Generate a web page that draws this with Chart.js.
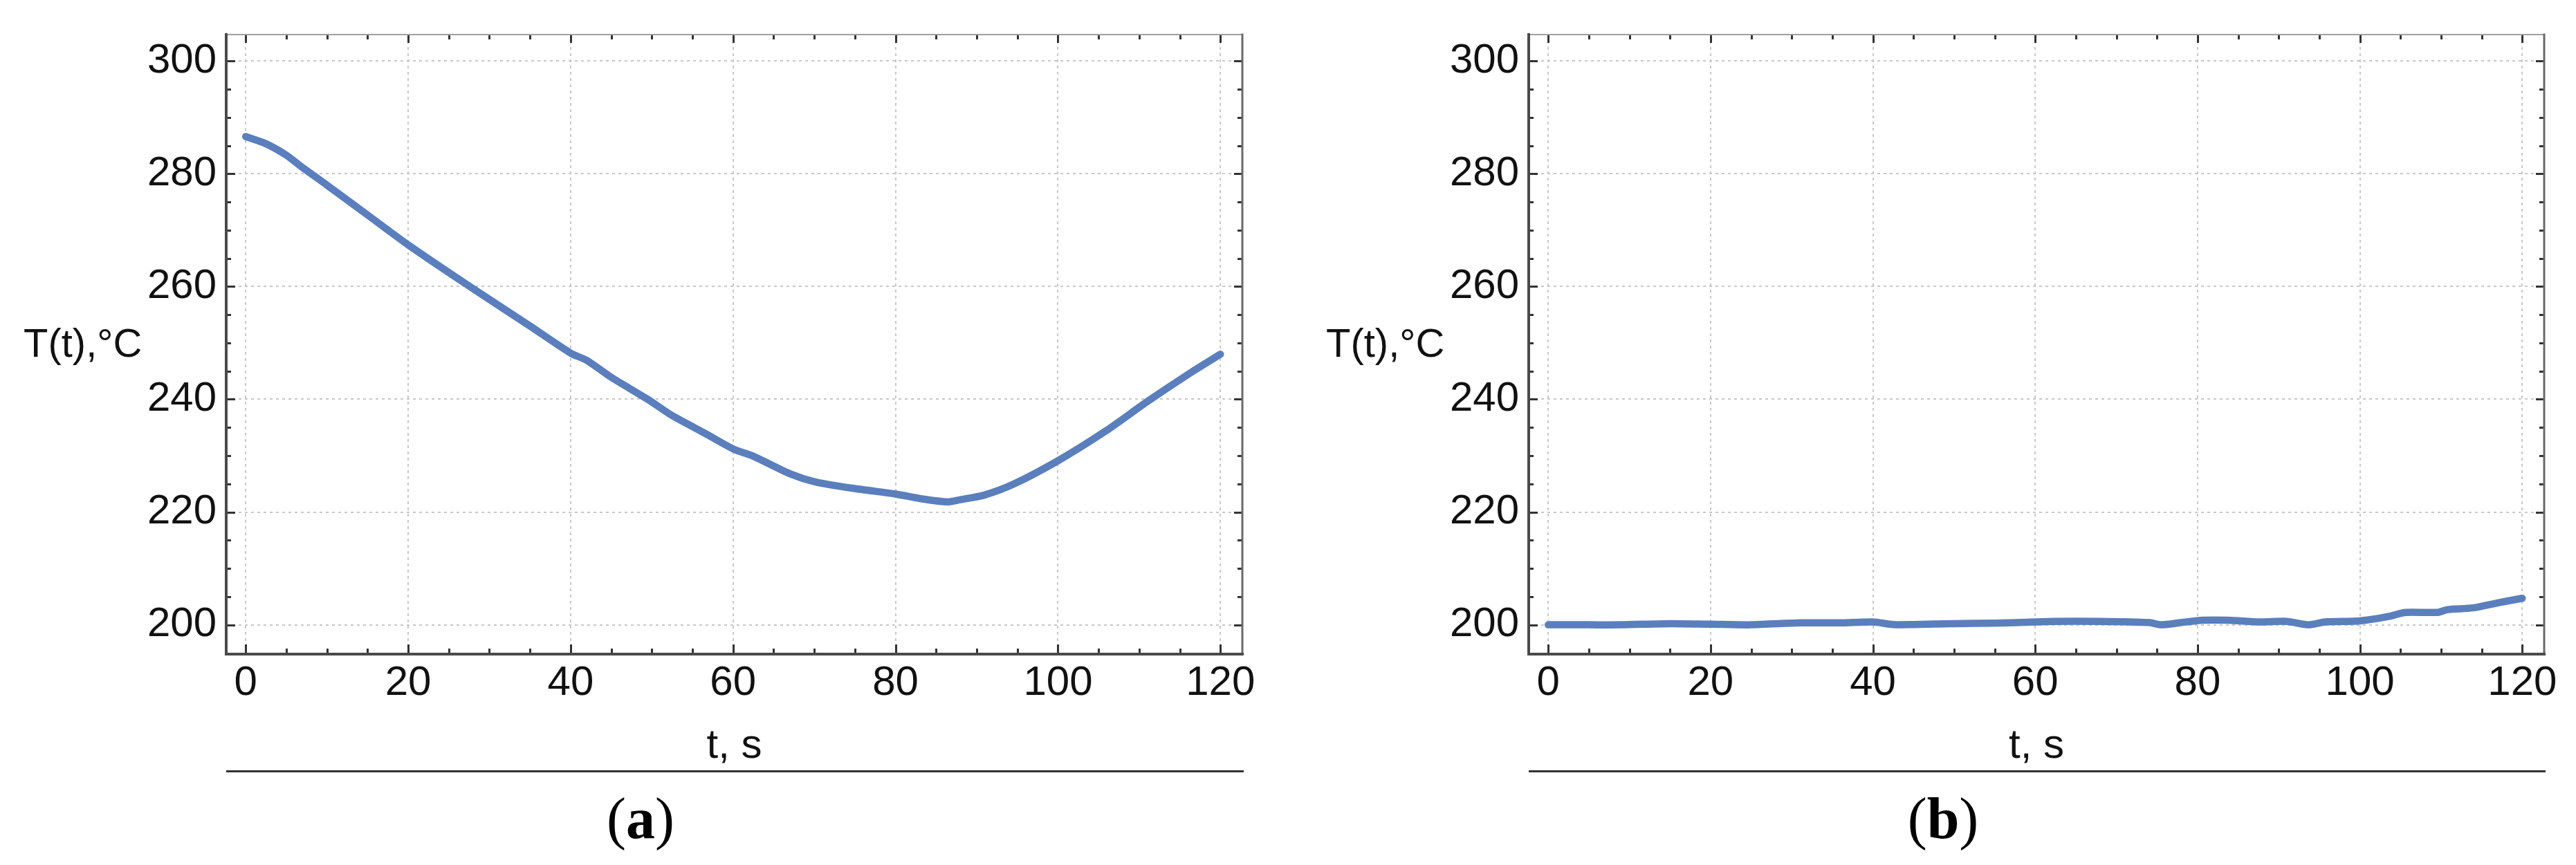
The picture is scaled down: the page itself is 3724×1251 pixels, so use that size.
<!DOCTYPE html>
<html><head><meta charset="utf-8">
<script src="https://cdn.jsdelivr.net/npm/chart.js@4.4.1/dist/chart.umd.min.js"></script>
<style>
html,body{margin:0;padding:0;background:#fff;width:3724px;height:1251px;overflow:hidden}
.panel{position:absolute;top:0;width:1862px;height:1251px}
canvas{display:block}
</style></head><body>
<div class="panel" style="left:0"><canvas id="ca" width="1862" height="1251"></canvas></div>
<div class="panel" style="left:1862px"><canvas id="cb" width="1862" height="1251"></canvas></div>
<script>
// ---- data ----
const tA    = [0, 2.4, 4.9, 7.2, 10, 15, 20, 27.6, 35, 40, 42, 45, 49.5, 52.4, 56.5, 60, 62.5, 67, 70, 74.8, 80, 83, 86.4, 88, 90.9, 94.6, 100, 105.8, 111.1, 116.1, 120];
const tempA = [286.6, 285.4, 283.4, 280.9, 278.0, 272.7, 267.4, 260.0, 253.0, 248.2, 246.9, 243.9, 240.0, 237.2, 234.0, 231.2, 229.9, 226.8, 225.4, 224.2, 223.2, 222.4, 221.8, 222.2, 223.0, 225.0, 229.1, 234.3, 239.7, 244.5, 248.0];
const tB    = [0, 5, 9, 15, 20, 25, 31, 36, 40, 42.5, 45, 50, 55, 60, 62, 68, 74, 75.5, 78, 80.6, 83.8, 87.7, 91, 93.7, 95.7, 100, 103.6, 105.6, 109.6, 110.8, 113.9, 117, 120];
const tempB = [200.0, 200.0, 200.0, 200.2, 200.1, 200.0, 200.35, 200.35, 200.5, 200.05, 200.05, 200.2, 200.3, 200.5, 200.6, 200.6, 200.4, 200.0, 200.4, 200.8, 200.8, 200.5, 200.6, 200.0, 200.5, 200.7, 201.5, 202.2, 202.2, 202.7, 203.0, 203.9, 204.7];
const xTickValues = [0, 20, 40, 60, 80, 100, 120];
const yTickValues = [200, 220, 240, 260, 280, 300];
const panelLabels = ['(a)', '(b)'];
const xTitle = 't, s';
const yTitle = 'T(t),°C';

const LINE = '#5b7fbd';
const FONT = '"Liberation Sans", Arial, sans-serif';

function frameTicksPlugin(label) {
  return {
    id: 'frameTicks',
    afterDatasetsDraw(chart) {
      const ctx = chart.ctx, a = chart.chartArea;
      const xs = chart.scales.x, ys = chart.scales.y;
      ctx.save();
      ctx.strokeStyle = '#333';
      ctx.lineWidth = 3;
      ctx.beginPath();
      for (let v = 0; v <= 120; v += 5) {
        const x = Math.round(xs.getPixelForValue(v)) + 0.5;
        const major = v % 20 === 0;
        const lb = major ? 14 : 8, lt = major ? 12 : 7;
        ctx.moveTo(x, a.bottom); ctx.lineTo(x, a.bottom - lb);
        ctx.moveTo(x, a.top); ctx.lineTo(x, a.top + lt);
      }
      for (let v = 200; v <= 300; v += 5) {
        const y = Math.round(ys.getPixelForValue(v)) + 0.5;
        const major = v % 20 === 0;
        const ll = major ? 13 : 7, lr = major ? 12 : 7;
        ctx.moveTo(a.left, y); ctx.lineTo(a.left + ll, y);
        ctx.moveTo(a.right, y); ctx.lineTo(a.right - lr, y);
      }
      ctx.stroke();
      ctx.lineCap = 'square';
      ctx.strokeStyle = '#a0a0a0'; ctx.lineWidth = 2;
      ctx.beginPath(); ctx.moveTo(a.left, a.top); ctx.lineTo(a.right, a.top); ctx.stroke();
      ctx.strokeStyle = '#6a6a6a'; ctx.lineWidth = 3;
      ctx.beginPath(); ctx.moveTo(a.right, a.top); ctx.lineTo(a.right, a.bottom); ctx.stroke();
      ctx.strokeStyle = '#4a4a4a'; ctx.lineWidth = 4;
      ctx.beginPath(); ctx.moveTo(a.left, a.top); ctx.lineTo(a.left, a.bottom); ctx.lineTo(a.right, a.bottom); ctx.stroke();
      ctx.fillStyle = '#111';
      ctx.font = '58px ' + FONT;
      ctx.textAlign = 'left'; ctx.textBaseline = 'middle';
      ctx.fillText(yTitle, a.left - 293, ys.getPixelForValue(249.5));
      ctx.strokeStyle = '#333'; ctx.lineWidth = 3; ctx.lineCap = 'butt';
      ctx.beginPath(); ctx.moveTo(a.left, 1115.5); ctx.lineTo(a.right + 2, 1115.5); ctx.stroke();
      ctx.fillStyle = '#000';
      ctx.textBaseline = 'middle'; ctx.textAlign = 'left';
      const cx = a.left + 599;
      const reg = '84px "Liberation Serif", "Times New Roman", serif';
      const bold = 'bold 84px "Liberation Serif", "Times New Roman", serif';
      ctx.font = reg;
      const wp = ctx.measureText('(').width, wc = ctx.measureText(')').width;
      ctx.font = bold;
      const inner = label.slice(1, -1);
      const wa = ctx.measureText(inner).width;
      let x = cx - (wp + wa + wc) / 2;
      const y = 1190;
      ctx.font = reg; ctx.fillText('(', x, y); x += wp;
      ctx.font = bold; ctx.fillText(inner, x, y); x += wa;
      ctx.font = reg; ctx.fillText(')', x, y);
      ctx.restore();
    }
  };
}

function makeChart(id, xs, ys, label, yAxisWidth, padRight) {
  const pts = xs.map((t, i) => ({ x: t, y: ys[i] }));
  return new Chart(document.getElementById(id), {
    type: 'line',
    data: { datasets: [{ data: pts, borderColor: LINE, borderWidth: 10.5, pointRadius: 0,
      tension: 0.25, borderCapStyle: 'round', borderJoinStyle: 'round', fill: false }] },
    options: {
      responsive: false, animation: false,
      layout: { padding: { left: 0, right: padRight, top: 39, bottom: 0 } },
      plugins: { legend: { display: false }, tooltip: { enabled: false } },
      scales: {
        x: {
          type: 'linear', min: -2.4, max: 122.7,
          afterFit(s) { s.height = 305; },
          afterBuildTicks(s) { s.ticks = xTickValues.map(v => ({ value: v })); },
          ticks: { includeBounds: false, color: '#111', padding: 6,
            font: { size: 60, family: FONT }, maxRotation: 0, autoSkip: false },
          grid: { color: '#c8c8c8', lineWidth: 2, drawTicks: false },
          border: { display: false, dash: [4, 5] },
          title: { display: true, text: xTitle, color: '#111',
            font: { size: 60, family: FONT }, padding: { top: 0, bottom: 136 } }
        },
        y: {
          type: 'linear', min: 194.8, max: 304.7,
          afterFit(s) { s.width = yAxisWidth; },
          afterBuildTicks(s) { s.ticks = yTickValues.map(v => ({ value: v })); },
          ticks: { includeBounds: false, color: '#111', padding: 14,
            font: { size: 60, family: FONT } },
          grid: { color: '#c8c8c8', lineWidth: 2, drawTicks: false },
          border: { display: false, dash: [4, 5] }
        }
      }
    },
    plugins: [frameTicksPlugin(label)]
  });
}

makeChart('ca', tA, tempA, panelLabels[0], 327, 66);
makeChart('cb', tB, tempB, panelLabels[1], 348, 46);
</script>
</body></html>
